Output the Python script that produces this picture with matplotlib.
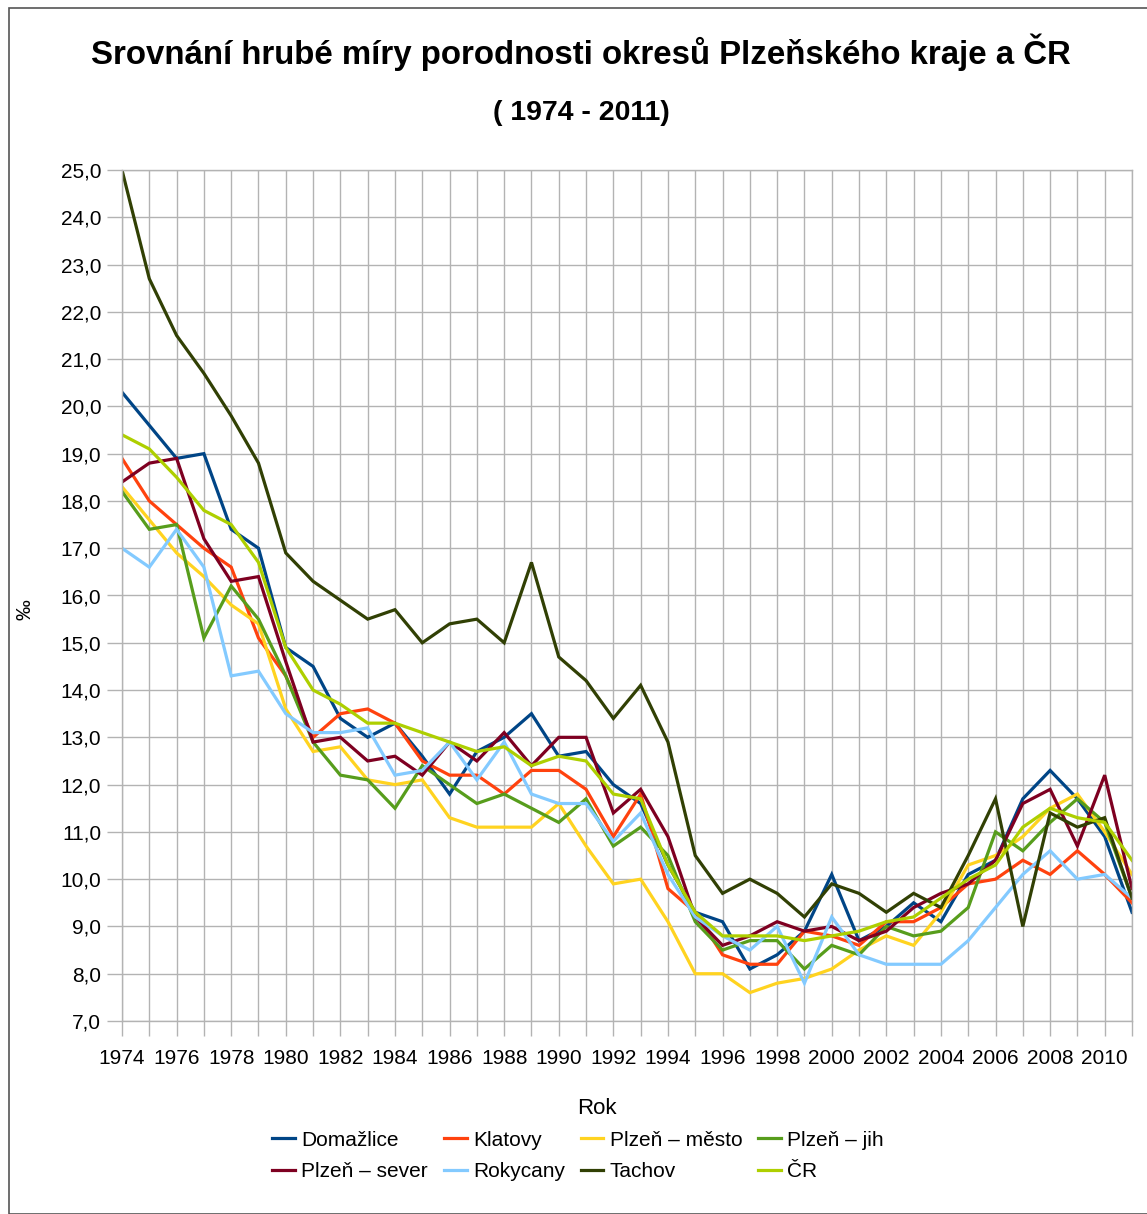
import matplotlib
matplotlib.use('Agg')
import matplotlib.pyplot as plt
from matplotlib.ticker import FuncFormatter, MultipleLocator
from matplotlib.patches import Rectangle

plt.rcParams['font.family'] = ['Liberation Sans', 'DejaVu Sans']

# roky 1974 - 2011
years = list(range(1974, 2012))

domazlice = [20.3, 19.6, 18.9, 19.0, 17.4, 17.0, 14.9, 14.5, 13.4, 13.0,
             13.3, 12.6, 11.8, 12.7, 13.0, 13.5, 12.6, 12.7, 12.0, 11.6,
             10.3, 9.3, 9.1, 8.1, 8.4, 8.9, 10.1, 8.7, 9.0, 9.5,
             9.1, 10.1, 10.4, 11.7, 12.3, 11.7, 10.9, 9.3]
klatovy = [18.9, 18.0, 17.5, 17.0, 16.6, 15.1, 14.3, 13.0, 13.5, 13.6,
           13.3, 12.5, 12.2, 12.2, 11.8, 12.3, 12.3, 11.9, 10.9, 11.8,
           9.8, 9.3, 8.4, 8.2, 8.2, 8.9, 8.8, 8.6, 9.1, 9.1,
           9.4, 9.9, 10.0, 10.4, 10.1, 10.6, 10.1, 9.5]
plzen_mesto = [18.3, 17.6, 16.9, 16.4, 15.8, 15.4, 13.6, 12.7, 12.8, 12.1,
               12.0, 12.1, 11.3, 11.1, 11.1, 11.1, 11.6, 10.7, 9.9, 10.0,
               9.1, 8.0, 8.0, 7.6, 7.8, 7.9, 8.1, 8.5, 8.8, 8.6,
               9.3, 10.3, 10.5, 10.9, 11.5, 11.8, 11.0, 10.1]
plzen_jih = [18.2, 17.4, 17.5, 15.1, 16.2, 15.5, 14.3, 12.9, 12.2, 12.1,
             11.5, 12.4, 12.0, 11.6, 11.8, 11.5, 11.2, 11.7, 10.7, 11.1,
             10.5, 9.1, 8.5, 8.7, 8.7, 8.1, 8.6, 8.4, 9.0, 8.8,
             8.9, 9.4, 11.0, 10.6, 11.2, 11.7, 11.2, 9.6]
plzen_sever = [18.4, 18.8, 18.9, 17.2, 16.3, 16.4, 14.6, 12.9, 13.0, 12.5,
               12.6, 12.2, 12.9, 12.5, 13.1, 12.4, 13.0, 13.0, 11.4, 11.9,
               10.9, 9.2, 8.6, 8.8, 9.1, 8.9, 9.0, 8.7, 8.9, 9.4,
               9.7, 9.9, 10.4, 11.6, 11.9, 10.7, 12.2, 9.8]
rokycany = [17.0, 16.6, 17.4, 16.6, 14.3, 14.4, 13.5, 13.1, 13.1, 13.2,
            12.2, 12.3, 12.9, 12.1, 12.9, 11.8, 11.6, 11.6, 10.8, 11.4,
            10.1, 9.2, 8.8, 8.5, 9.0, 7.8, 9.2, 8.4, 8.2, 8.2,
            8.2, 8.7, 9.4, 10.1, 10.6, 10.0, 10.1, 9.6]
tachov = [25.0, 22.7, 21.5, 20.7, 19.8, 18.8, 16.9, 16.3, 15.9, 15.5,
          15.7, 15.0, 15.4, 15.5, 15.0, 16.7, 14.7, 14.2, 13.4, 14.1,
          12.9, 10.5, 9.7, 10.0, 9.7, 9.2, 9.9, 9.7, 9.3, 9.7,
          9.4, 10.5, 11.7, 9.0, 11.4, 11.1, 11.3, 9.6]
cr = [19.4, 19.1, 18.5, 17.8, 17.5, 16.7, 14.9, 14.0, 13.7, 13.3,
      13.3, 13.1, 12.9, 12.7, 12.8, 12.4, 12.6, 12.5, 11.8, 11.7,
      10.3, 9.3, 8.8, 8.8, 8.8, 8.7, 8.8, 8.9, 9.1, 9.2,
      9.6, 10.0, 10.3, 11.1, 11.5, 11.3, 11.2, 10.4]

names = ['Domažlice', 'Klatovy', 'Plzeň – město', 'Plzeň – jih',
         'Plzeň – sever', 'Rokycany', 'Tachov', 'ČR']
series = [domazlice, klatovy, plzen_mesto, plzen_jih,
          plzen_sever, rokycany, tachov, cr]
colours = ['#004586', '#ff420e', '#ffd320', '#579d1c',
           '#7e0021', '#83caff', '#314004', '#aecf00']

W, H = 1147, 1214
fig = plt.figure(figsize=(W / 100, H / 100), dpi=100)
ax = fig.add_axes([122 / W, 1 - 1021 / H, 1010 / W, 851 / H])

lines = []
for vals, name, col in zip(series, names, colours):
    ln, = ax.plot(years, vals, color=col, lw=2.3, label=name, solid_joinstyle='miter')
    lines.append(ln)

ax.set_xlim(1974, 2011)
ax.set_ylim(7, 25)
ax.xaxis.set_major_locator(MultipleLocator(2))
ax.xaxis.set_minor_locator(MultipleLocator(1))
ax.yaxis.set_major_locator(MultipleLocator(1))
ax.yaxis.set_major_formatter(FuncFormatter(lambda v, p: ('%.1f' % v).replace('.', ',')))
ax.grid(which='both', color='#b3b3b3', lw=1.0)
ax.set_axisbelow(True)
ax.tick_params(which='both', length=11, width=1, color='#b3b3b3', labelsize=15)
ax.tick_params(axis='x', which='major', pad=9)
ax.tick_params(axis='y', pad=4)
ax.tick_params(which='minor', labelbottom=False)
for s in ax.spines.values():
    s.set_color('#b3b3b3')
    s.set_linewidth(1.0)

fig.text(597 / W, 1 - 1108 / H, 'Rok', fontsize=16, ha='center', va='center')
fig.text(25 / W, 1 - 610 / H, '‰', fontsize=15, rotation=90, ha='center', va='center')

fig.text(581 / W, 1 - 52 / H, 'Srovnání hrubé míry porodnosti okresů Plzeňského kraje a ČR',
         fontsize=23.8, fontweight='bold', ha='center', va='center')
fig.text(581 / W, 1 - 113 / H, '( 1974 - 2011)', fontsize=20.5, fontweight='bold',
         ha='center', va='center')

# legenda po radcich -> poradi po sloupcich
order = [0, 4, 1, 5, 2, 6, 3, 7]
fig.legend([lines[i] for i in order], [names[i] for i in order], ncol=4,
           loc='center', bbox_to_anchor=(578 / W, 1 - 1156 / H), frameon=False,
           fontsize=15, handlelength=1.1, handletextpad=0.3, columnspacing=0.75,
           labelspacing=0.62, borderaxespad=0, borderpad=0)

fig.patches.append(Rectangle((9 / W, 0), 1.2, 1 - 8 / H, transform=fig.transFigure,
                             fill=False, edgecolor='#555555', lw=1.2))

fig.savefig('out.png', dpi=100)
